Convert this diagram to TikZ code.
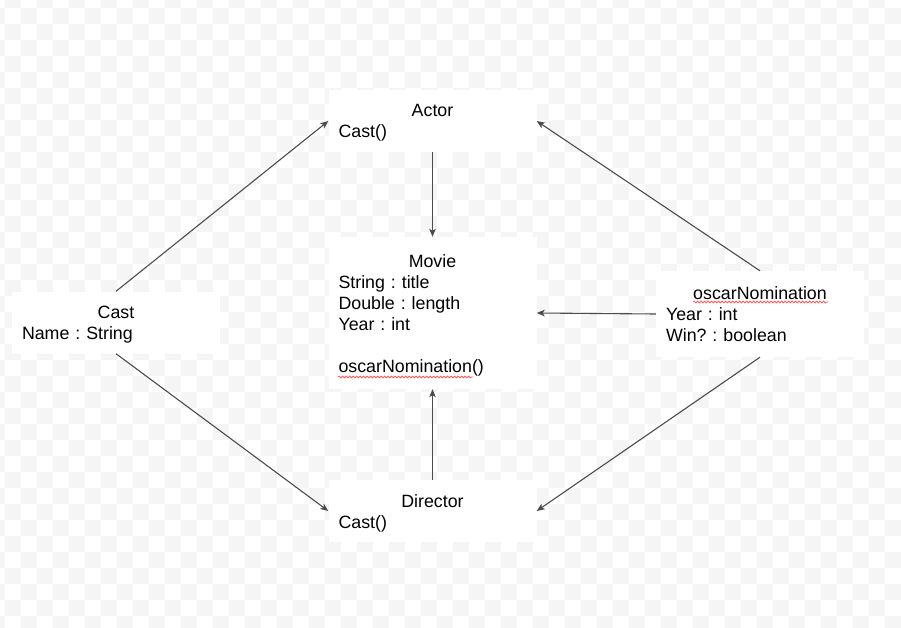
\documentclass[tikz,border=0pt]{standalone}
\usepackage{fontspec}
\setmainfont{Liberation Sans}
\usepackage{tikz}
\usetikzlibrary{shapes,arrows,arrows.meta,positioning,decorations.pathmorphing}
\frenchspacing

\begin{document}
\begin{tikzpicture}[x=1pt,y=-1pt,
    umlbox/.style={fill=white, minimum height=62pt, inner xsep=10pt, inner ysep=0pt,
        text width=188pt, align=left, text height=13pt, text depth=21pt,
        font=\fontsize{17.8}{21}\selectfont},
    link/.style={-{Stealth[length=8pt,width=6.5pt,inset=2pt]}, line width=1.1pt, black!70},
    spell/.style={red!65, line width=0.8pt, decorate,
        decoration={snake, amplitude=0.9pt, segment length=3.5pt}}]
    % Canvas with faint checkerboard
    \useasboundingbox (0,0) rectangle (901,628);
    \fill[white] (0,0) rectangle (901,628);
    \begin{scope}
        \clip (0,0) rectangle (901,628);
        \foreach \i in {0,2,...,56}
            \foreach \j in {1,3,...,39} {
                \fill[black!4] (-11+16*\i,-8+16*\j) rectangle ++(16,16);
                \fill[black!4] (5+16*\i,-24+16*\j) rectangle ++(16,16);
            }
    \end{scope}

    % Class boxes
    \node[umlbox] (actor) at (432.5,121) {\makebox[\hsize]{Actor}\\Cast()};
    \node[umlbox, minimum height=152pt, text depth=105pt] (movie) at (432.5,313)
        {\makebox[\hsize]{Movie}\\String : title\\Double : length\\Year : int\\[21pt]oscarNomination()};
    \node[umlbox] (director) at (432.5,511) {\makebox[\hsize]{Director}\\Cast()};
    \node[umlbox] (cast) at (116,322.5) {\makebox[\hsize]{Cast}\\Name : String};
    \node[umlbox, minimum height=86pt, text depth=42pt] (oscar) at (760,314)
        {\makebox[\hsize]{oscarNomination}\\Year : int\\Win? : boolean};

    % Spell-check underlines
    \draw[spell] (693,302) -- (828,302);
    \draw[spell] (338,377) -- (473,377);

    % Associations
    \draw[link] (cast.north) -- (actor.west);
    \draw[link] (cast.south) -- (director.west);
    \draw[link] (actor.south) -- (movie.north);
    \draw[link] (director.north) -- (movie.south);
    \draw[link] (oscar.north) -- (actor.east);
    \draw[link] (oscar.west) -- (movie.east);
    \draw[link] (oscar.south) -- (director.east);
\end{tikzpicture}
\end{document}
